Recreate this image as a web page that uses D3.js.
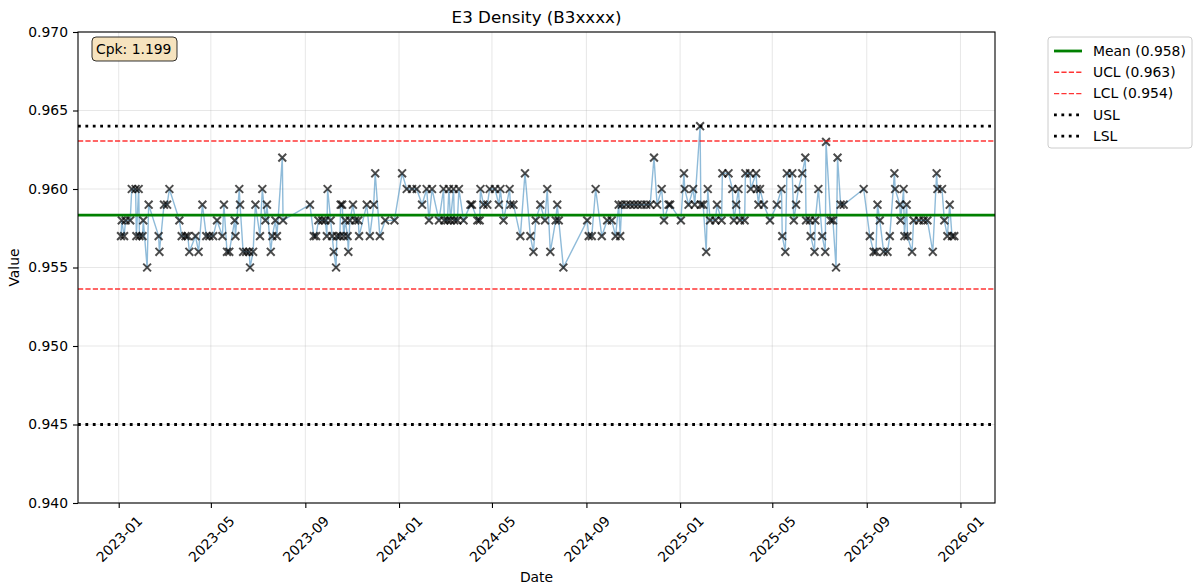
<!DOCTYPE html>
<html>
<head>
<meta charset="utf-8">
<script src="https://cdn.jsdelivr.net/npm/d3@7"></script>
<style>
  body { margin: 0; background: #fff; }
  svg { font-family: "DejaVu Sans", sans-serif; }
</style>
</head>
<body>
<script>
var sampleDates = [
  "2023-01-04","2023-01-05","2023-01-08","2023-01-10","2023-01-16","2023-01-18","2023-01-23","2023-01-24",
  "2023-01-27","2023-01-28","2023-02-01","2023-02-02","2023-02-07","2023-02-09","2023-02-22","2023-02-23",
  "2023-03-01","2023-03-05","2023-03-08","2023-03-21","2023-03-24","2023-03-29","2023-04-01","2023-04-03",
  "2023-04-11","2023-04-15","2023-04-20","2023-04-25","2023-04-29","2023-05-04","2023-05-09","2023-05-16",
  "2023-05-18","2023-05-22","2023-05-25","2023-06-01","2023-06-02","2023-06-07","2023-06-08","2023-06-12",
  "2023-06-16","2023-06-20","2023-06-21","2023-06-25","2023-06-28","2023-07-04","2023-07-07","2023-07-11",
  "2023-07-13","2023-07-18","2023-07-20","2023-07-24","2023-07-26","2023-08-02","2023-08-03",
  "2023-09-07","2023-09-12","2023-09-15","2023-09-18","2023-09-23","2023-09-27","2023-09-29","2023-09-30",
  "2023-10-04","2023-10-06","2023-10-08","2023-10-11","2023-10-12","2023-10-16","2023-10-17","2023-10-19",
  "2023-10-21","2023-10-23","2023-10-26","2023-10-27","2023-10-29","2023-11-02","2023-11-05","2023-11-09",
  "2023-11-10","2023-11-20","2023-11-24","2023-11-29","2023-12-01","2023-12-07","2023-12-14","2023-12-26",
  "2024-01-05","2024-01-11","2024-01-18","2024-01-24","2024-01-31","2024-02-06","2024-02-09","2024-02-13",
  "2024-02-22","2024-02-28","2024-02-29","2024-03-04","2024-03-06","2024-03-08","2024-03-12","2024-03-13",
  "2024-03-17","2024-03-19","2024-03-25","2024-04-03","2024-04-05","2024-04-12","2024-04-15","2024-04-16",
  "2024-04-20","2024-04-25","2024-04-28","2024-05-05","2024-05-10","2024-05-12","2024-05-16","2024-05-24",
  "2024-05-25","2024-05-29","2024-06-07","2024-06-13","2024-06-20","2024-06-24","2024-06-27","2024-07-03",
  "2024-07-09","2024-07-12","2024-07-16","2024-07-23","2024-07-25","2024-07-27","2024-08-02",
  "2024-09-02","2024-09-04","2024-09-08","2024-09-13","2024-09-21","2024-09-28","2024-10-04","2024-10-09",
  "2024-10-13","2024-10-15","2024-10-17","2024-10-23","2024-10-28","2024-11-02","2024-11-07","2024-11-12",
  "2024-11-18","2024-11-23","2024-11-28","2024-12-02","2024-12-08","2024-12-11","2024-12-17","2024-12-19",
  "2025-01-02","2025-01-06","2025-01-07","2025-01-12","2025-01-18","2025-01-20","2025-01-27","2025-01-28",
  "2025-01-31","2025-02-04","2025-02-06","2025-02-09","2025-02-16","2025-02-18","2025-02-24","2025-02-25",
  "2025-03-05","2025-03-10","2025-03-12","2025-03-15","2025-03-18","2025-03-20","2025-03-26","2025-03-27",
  "2025-04-02","2025-04-03","2025-04-10","2025-04-11","2025-04-13","2025-04-15","2025-04-20","2025-04-28",
  "2025-05-07","2025-05-13","2025-05-14","2025-05-18","2025-05-20","2025-05-27","2025-05-29","2025-06-01",
  "2025-06-04","2025-06-09","2025-06-13","2025-06-14","2025-06-19","2025-06-20","2025-06-25","2025-06-26",
  "2025-06-30","2025-07-05","2025-07-09","2025-07-10","2025-07-16","2025-07-19","2025-07-23","2025-07-25",
  "2025-07-29","2025-08-02",
  "2025-08-28","2025-09-05","2025-09-10","2025-09-13","2025-09-15","2025-09-18","2025-09-23","2025-09-28",
  "2025-10-01","2025-10-07","2025-10-08","2025-10-14","2025-10-15","2025-10-19","2025-10-20","2025-10-23",
  "2025-10-24","2025-10-30","2025-11-01","2025-11-08","2025-11-14","2025-11-19","2025-11-26","2025-12-01",
  "2025-12-02","2025-12-08","2025-12-11","2025-12-15","2025-12-18","2025-12-21","2025-12-24"
];
var density = [
  0.957,0.958,0.957,0.958,0.958,0.960,0.960,0.957,
  0.960,0.957,0.957,0.958,0.955,0.959,0.957,0.956,
  0.959,0.959,0.960,0.958,0.957,0.957,0.957,0.956,
  0.957,0.956,0.959,0.957,0.957,0.957,0.958,0.957,
  0.959,0.956,0.956,0.958,0.957,0.960,0.959,0.956,
  0.956,0.956,0.955,0.956,0.959,0.957,0.960,0.958,
  0.959,0.956,0.957,0.958,0.957,0.962,0.958,
  0.959,0.957,0.957,0.958,0.958,0.958,0.957,0.960,
  0.958,0.957,0.956,0.955,0.957,0.957,0.959,0.959,
  0.957,0.958,0.957,0.956,0.958,0.959,0.958,0.958,
  0.957,0.959,0.957,0.959,0.961,0.957,0.958,0.958,
  0.961,0.960,0.960,0.960,0.959,0.960,0.958,0.960,
  0.958,0.960,0.958,0.958,0.960,0.958,0.960,0.958,
  0.958,0.960,0.958,0.959,0.959,0.958,0.958,0.960,
  0.959,0.959,0.960,0.960,0.959,0.960,0.958,0.960,
  0.959,0.959,0.957,0.961,0.957,0.956,0.958,0.959,
  0.958,0.960,0.956,0.958,0.959,0.958,0.955,
  0.958,0.957,0.957,0.960,0.957,0.958,0.958,0.957,
  0.959,0.957,0.959,0.959,0.959,0.959,0.959,0.959,
  0.959,0.959,0.962,0.959,0.960,0.958,0.959,0.959,
  0.958,0.961,0.960,0.959,0.960,0.959,0.964,0.959,
  0.959,0.956,0.960,0.958,0.958,0.959,0.958,0.961,
  0.961,0.960,0.958,0.959,0.960,0.958,0.958,0.961,
  0.961,0.960,0.961,0.960,0.959,0.960,0.959,0.958,
  0.959,0.960,0.957,0.956,0.961,0.961,0.958,0.959,
  0.960,0.961,0.962,0.958,0.958,0.957,0.956,0.958,
  0.960,0.957,0.956,0.963,0.958,0.958,0.955,0.962,
  0.959,0.959,
  0.960,0.957,0.956,0.956,0.959,0.958,0.956,0.956,
  0.957,0.961,0.960,0.959,0.958,0.960,0.957,0.959,
  0.957,0.956,0.958,0.958,0.958,0.958,0.956,0.961,
  0.960,0.960,0.958,0.957,0.959,0.957,0.957
];

var yTicks = [0.940, 0.945, 0.950, 0.955, 0.960, 0.965, 0.970];
var xTicks = ["2023-01-01","2023-05-01","2023-09-01","2024-01-01","2024-05-01",
              "2024-09-01","2025-01-01","2025-05-01","2025-09-01","2026-01-01"];
var xDomain = ["2022-11-09", "2026-02-15"];

var meanValue = 0.95834, uclValue = 0.96306, lclValue = 0.95363;
var uslValue = 0.964, lslValue = 0.945;
var legendLabels = ["Mean (0.958)", "UCL (0.963)", "LCL (0.954)", "USL", "LSL"];
var cpkLabel = "Cpk: 1.199";
var chartTitle = "E3 Density (B3xxxx)";

var svgWidth = 1196, svgHeight = 586;
var margin = {top: 32, right: 201, bottom: 83, left: 78};
var width = svgWidth - margin.left - margin.right;
var height = svgHeight - margin.top - margin.bottom;

var parseDate = d3.utcParse("%Y-%m-%d");
var points = sampleDates.map(function(d, i) { return {date: parseDate(d), value: density[i]}; });

var svg = d3.select("body").append("svg")
  .attr("width", svgWidth)
  .attr("height", svgHeight);

var g = svg.append("g")
  .attr("transform", `translate(${margin.left},${margin.top})`);

var x = d3.scaleUtc()
  .domain(xDomain.map(parseDate))
  .range([0, width]);

var y = d3.scaleLinear()
  .domain([0.940, 0.970])
  .range([height, 0]);

// grid
g.append("g").selectAll("line")
  .data(yTicks).enter().append("line")
  .attr("x1", 0).attr("x2", width)
  .attr("y1", d => y(d)).attr("y2", d => y(d))
  .attr("stroke", "#b0b0b0").attr("stroke-opacity", 0.3).attr("stroke-width", 1);

g.append("g").selectAll("line")
  .data(xTicks).enter().append("line")
  .attr("x1", d => x(parseDate(d))).attr("x2", d => x(parseDate(d)))
  .attr("y1", 0).attr("y2", height)
  .attr("stroke", "#b0b0b0").attr("stroke-opacity", 0.3).attr("stroke-width", 1);

// data line + markers
var line = d3.line()
  .x(d => x(d.date))
  .y(d => y(d.value));

g.append("path")
  .datum(points)
  .attr("d", line)
  .attr("fill", "none")
  .attr("stroke", "#1f77b4")
  .attr("stroke-opacity", 0.5)
  .attr("stroke-width", 1.4);

var ms = 3.9;
g.append("g").selectAll("path")
  .data(points).enter().append("path")
  .attr("transform", d => `translate(${x(d.date)},${y(d.value)})`)
  .attr("d", `M${-ms},${-ms}L${ms},${ms}M${-ms},${ms}L${ms},${-ms}`)
  .attr("stroke", "#000")
  .attr("stroke-opacity", 0.7)
  .attr("stroke-width", 2);

// reference lines
var refLines = [
  {v: meanValue, color: "#008000", w: 2.8, dash: null, op: 1},
  {v: uclValue, color: "#ff0000", w: 1.4, dash: "5.2,2.2", op: 0.8},
  {v: lclValue, color: "#ff0000", w: 1.4, dash: "5.2,2.2", op: 0.8},
  {v: uslValue, color: "#000000", w: 2.8, dash: "2.8,4.6", op: 1},
  {v: lslValue, color: "#000000", w: 2.8, dash: "2.8,4.6", op: 1}
];

g.append("g").selectAll("line")
  .data(refLines).enter().append("line")
  .attr("x1", 0).attr("x2", width)
  .attr("y1", d => y(d.v)).attr("y2", d => y(d.v))
  .attr("stroke", d => d.color)
  .attr("stroke-opacity", d => d.op)
  .attr("stroke-width", d => d.w)
  .attr("stroke-dasharray", d => d.dash);

// frame
g.append("rect")
  .attr("width", width).attr("height", height)
  .attr("fill", "none").attr("stroke", "#000").attr("stroke-width", 1.1);

// axes
var leftAxis = d3.axisLeft(y).tickValues(yTicks).tickFormat(d3.format(".3f")).tickSizeOuter(0).tickSize(5).tickPadding(5);
var yAxisG = g.append("g").call(leftAxis);
yAxisG.select(".domain").remove();
yAxisG.selectAll("text").attr("font-size", "13.9px").attr("fill", "#000").attr("font-family", "DejaVu Sans");
yAxisG.selectAll("line").attr("stroke-width", 1.1);

var bottomAxis = d3.axisBottom(x).tickValues(xTicks.map(parseDate)).tickFormat(d3.utcFormat("%Y-%m")).tickSizeOuter(0).tickSize(5);
var xAxisG = g.append("g")
  .attr("transform", `translate(0,${height})`)
  .call(bottomAxis);
xAxisG.select(".domain").remove();
xAxisG.selectAll("line").attr("stroke-width", 1.1);
xAxisG.selectAll("text")
  .attr("font-size", "13.9px").attr("fill", "#000").attr("font-family", "DejaVu Sans")
  .attr("y", 0).attr("dy", null)
  .attr("dominant-baseline", "central")
  .attr("text-anchor", "middle")
  .attr("transform", "translate(0,36) rotate(-45)");

// labels
svg.append("text")
  .attr("x", margin.left + width / 2).attr("y", 23)
  .attr("text-anchor", "middle").attr("font-size", "16.7px")
  .text(chartTitle);

svg.append("text")
  .attr("x", margin.left + width / 2).attr("y", 582)
  .attr("text-anchor", "middle").attr("font-size", "13.9px")
  .text("Date");

svg.append("text")
  .attr("transform", `translate(19,${margin.top + height / 2}) rotate(-90)`)
  .attr("text-anchor", "middle").attr("font-size", "13.9px")
  .text("Value");

// Cpk box
var cpk = g.append("g").attr("transform", "translate(14,5)");
cpk.append("rect")
  .attr("width", 85).attr("height", 24).attr("rx", 4)
  .attr("fill", "#f5deb3").attr("fill-opacity", 0.85)
  .attr("stroke", "#000").attr("stroke-opacity", 0.8).attr("stroke-width", 1);
cpk.append("text")
  .attr("x", 4).attr("y", 17).attr("font-size", "13.9px")
  .text(cpkLabel);

// legend
var legend = svg.append("g").attr("transform", "translate(1048,37)");
legend.append("rect")
  .attr("width", 144).attr("height", 111).attr("rx", 3)
  .attr("fill", "#fff").attr("stroke", "#cccccc").attr("stroke-width", 1);

var legendItems = legend.selectAll(".legend")
  .data(refLines).enter().append("g")
  .attr("class", "legend")
  .attr("transform", (d, i) => `translate(0,${14 + i * 21.3})`);
legendItems.append("line")
  .attr("x1", 6).attr("x2", 34)
  .attr("stroke", d => d.color)
  .attr("stroke-opacity", d => d.op)
  .attr("stroke-width", d => d.w)
  .attr("stroke-dasharray", d => d.dash);
legendItems.append("text")
  .attr("x", 45).attr("dy", "0.35em").attr("font-size", "13.9px")
  .text((d, i) => legendLabels[i]);
</script>
</body>
</html>
